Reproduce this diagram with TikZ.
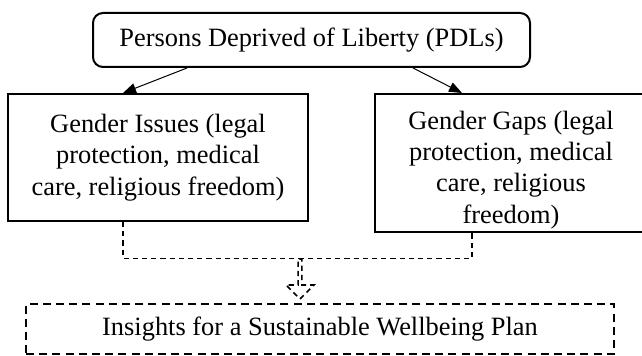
\documentclass[tikz,border=0pt]{standalone}
\usepackage{fontspec}
\setmainfont{Liberation Serif}
\usetikzlibrary{arrows.meta, shapes.arrows}

\begin{document}
\begin{tikzpicture}[
    x=0.5pt, y=-0.5pt,
    every node/.style={font=\fontsize{13.2}{15.6}\selectfont, align=center, inner sep=0pt},
    topbox/.style={rectangle, draw, line width=1pt, rounded corners=5pt},
    issuebox/.style={rectangle, draw, line width=1pt},
    planbox/.style={rectangle, draw, line width=0.8pt, dash pattern=on 4pt off 2.6pt},
    arr/.style={-{Triangle[length=6.5pt, width=5pt]}, line width=0.5pt},
    link/.style={line width=0.6pt, dash pattern=on 2.6pt off 2pt},
]
    \useasboundingbox (0,0) rectangle (642,356);
    \clip (0,0) rectangle (642,356);

    % -- top --
    \node[topbox, minimum width=218.5pt, minimum height=27pt] (pdl) at (311.5, 40)
        {Persons Deprived of Liberty (PDLs)};

    % -- two branches --
    \node[issuebox, minimum width=150pt, minimum height=63.5pt] (issues) at (158, 157.5)
        {Gender Issues (legal\\protection, medical\\care, religious freedom)};
    \node[issuebox, minimum width=136pt, minimum height=69pt] (gaps) at (511, 163)
        {\raisebox{-3.5pt}[\height][\depth]{\begin{tabular}{@{}c@{}}
         Gender Gaps (legal\\protection, medical\\care, religious\\freedom)\end{tabular}}};

    \draw[arr] ([xshift=-62.25pt]pdl.south) -- ([xshift=-17.5pt]issues.north);
    \draw[arr] ([xshift=50.75pt]pdl.south) -- ([xshift=-24.5pt]gaps.north);

    % -- merge arrow --
    \node[single arrow, draw, rotate=-90, link, line width=0.8pt, minimum height=20pt,
          minimum width=14pt, single arrow head extend=2.5pt] (merge) at (300, 278) {};

    \draw[link] ([xshift=-17.5pt]issues.south) |- (merge.tail) -| ([xshift=-19.5pt]gaps.south);

    % -- result --
    \node[planbox, minimum width=294pt, minimum height=25pt] (plan) at (320, 329)
        {Insights for a Sustainable Wellbeing Plan};

\end{tikzpicture}
\end{document}
